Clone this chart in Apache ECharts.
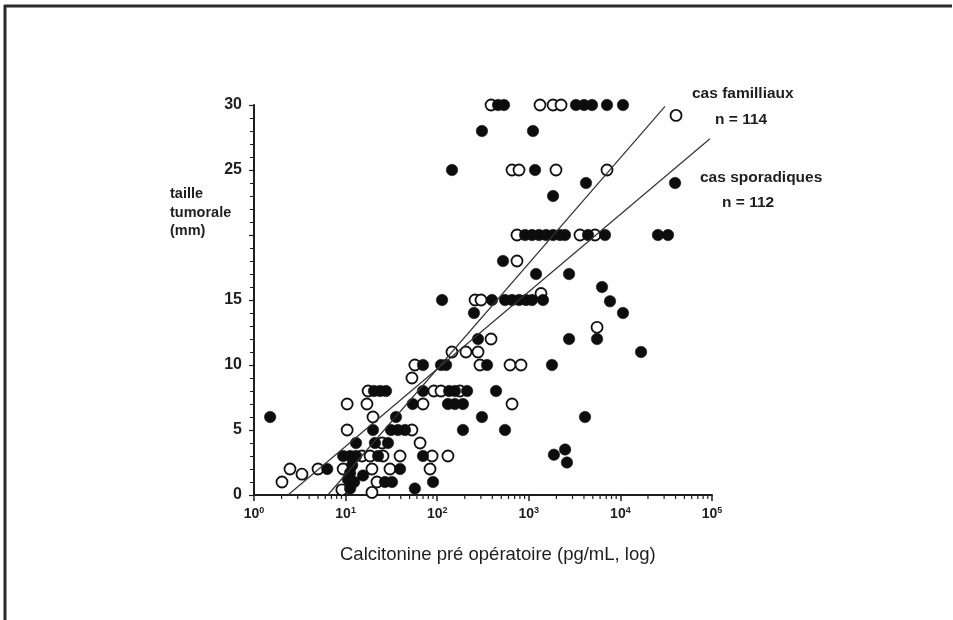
<!DOCTYPE html>
<html>
<head>
<meta charset="utf-8">
<script src="https://cdn.jsdelivr.net/npm/echarts@6/dist/echarts.min.js"></script>
<style>
  html, body { margin: 0; padding: 0; background: #fff; }
  #chart { width: 953px; height: 620px; }
</style>
</head>
<body>
<div id="chart"></div>
<script>
// calcitonine (pg/mL) vs taille tumorale (mm)
const openCases = [
  [387, 30], [1325, 30], [1840, 30], [2250, 30], [40500, 29.2],
  [656, 25], [782, 25], [1980, 25], [7140, 25],
  [743, 18], [743, 20], [3620, 20], [5280, 20],
  [259, 15], [301, 15], [1360, 15.5],
  [5560, 12.9], [387, 12],
  [145, 11], [206, 11], [279, 11],
  [57, 10], [293, 10], [624, 10], [822, 10],
  [53, 9],
  [17.6, 8], [92, 8], [110, 8], [177, 8],
  [10.4, 7], [17.1, 7], [70, 7], [656, 7],
  [19.9, 6],
  [10.4, 5], [53, 5],
  [25, 4], [65, 4],
  [15.1, 3], [18.5, 3], [25.6, 3], [39.3, 3], [88, 3], [131, 3],
  [2.47, 2], [3.34, 1.6], [5.0, 2], [9.4, 2], [19.4, 2], [30.5, 2], [83.5, 2],
  [2.02, 1], [22, 1],
  [9.1, 0.4], [19.4, 0.2]
];

const filledCases = [
  [461, 30], [536, 30], [3275, 30], [4010, 30], [4900, 30], [7140, 30], [10670, 30],
  [308, 28], [1111, 28],
  [145, 25], [1170, 25],
  [4210, 24], [39500, 24],
  [1840, 23],
  [910, 20], [1084, 20], [1292, 20], [1542, 20], [1840, 20], [2190, 20], [2485, 20],
  [4430, 20], [6790, 20], [25700, 20], [33100, 20],
  [523, 18],
  [1200, 17], [2750, 17],
  [6300, 16],
  [113, 15], [396, 15], [550, 15], [656, 15], [782, 15], [932, 15], [1084, 15], [1429, 15], [7700, 14.9],
  [252, 14], [10670, 14],
  [279, 12], [2750, 12], [5560, 12],
  [16800, 11],
  [70, 10], [110, 10], [125, 10], [350, 10], [1790, 10],
  [20.4, 8], [23.8, 8], [27.6, 8], [70, 8], [135, 8], [156, 8], [212, 8], [439, 8],
  [54, 7], [131, 7], [156, 7], [191, 7],
  [1.5, 6], [35.5, 6], [308, 6], [4110, 6],
  [19.9, 5], [31.3, 5], [37.3, 5], [44.5, 5], [191, 5], [550, 5],
  [13, 4], [20.9, 4], [29, 4],
  [9.4, 3], [11.2, 3], [13, 3], [22.6, 3], [70, 3], [1880, 3.1],
  [2490, 3.5], [2610, 2.5],
  [6.3, 2], [11.8, 2.3], [11.2, 1.7], [12.4, 1], [15.5, 1.5], [39.3, 2],
  [10.6, 1.2], [26.9, 1], [32.1, 1], [90, 1],
  [11.2, 0.5], [57, 0.5]
];

// droites de régression
const lineFamiliaux = [[6.4, 0], [30700, 29.9]];
const lineSporadiques = [[2.35, 0], [95000, 27.4]];

const xDecades = [1, 10, 100, 1000, 10000, 100000];
const yHiddenLabels = [20];

const minorTicks = [];
for (let i = 0; i < xDecades.length - 1; i++) {
  for (let k = 2; k <= 9; k++) minorTicks.push([k * xDecades[i], 0]);
}

const font = '"Liberation Sans", Arial, sans-serif';
const ink = '#1e1e1e';

const chart = echarts.init(document.getElementById('chart'));

chart.setOption({
  backgroundColor: '#fff',
  animation: false,
  grid: { left: 254, right: 241, top: 105, bottom: 125 },
  xAxis: {
    type: 'log',
    logBase: 10,
    min: 1,
    max: 100000,
    axisLine: { lineStyle: { color: ink, width: 2 } },
    axisTick: { length: 6, lineStyle: { color: ink, width: 1.5 } },
    splitLine: { show: false },
    axisLabel: {
      margin: 11,
      color: ink,
      fontFamily: font,
      fontWeight: 'bold',
      fontSize: 14,
      formatter: (v) => '10{s|' + Math.round(Math.log10(v)) + '}',
      rich: {
        s: { fontSize: 9, fontWeight: 'bold', fontFamily: font, color: ink, verticalAlign: 'top', padding: [0, 0, 7, 0] }
      }
    }
  },
  yAxis: {
    type: 'value',
    min: 0,
    max: 30,
    interval: 5,
    axisLine: { show: true, lineStyle: { color: ink, width: 2 } },
    axisTick: { show: true, length: 5, lineStyle: { color: ink, width: 1.2 } },
    minorTick: { show: true, splitNumber: 5, length: 4, lineStyle: { color: ink, width: 1 } },
    splitLine: { show: false },
    axisLabel: {
      margin: 12,
      color: ink,
      fontFamily: font,
      fontWeight: 'bold',
      fontSize: 16,
      formatter: (v) => (yHiddenLabels.includes(v) ? '' : String(v))
    }
  },
  series: [
    {
      name: 'ticks',
      type: 'custom',
      silent: true,
      clip: false,
      data: minorTicks,
      renderItem: (params, api) => {
        const p = api.coord([api.value(0), 0]);
        return {
          type: 'line',
          shape: { x1: p[0], y1: p[1] + 1, x2: p[0], y2: p[1] + 4 },
          style: { stroke: ink, lineWidth: 1.2 }
        };
      }
    },
    {
      name: 'cercles ouverts',
      type: 'scatter',
      data: openCases,
      symbol: 'circle',
      symbolSize: 11,
      itemStyle: { color: '#fff', borderColor: '#111', borderWidth: 1.8, opacity: 1 },
      z: 3
    },
    {
      name: 'cercles pleins',
      type: 'scatter',
      data: filledCases,
      symbol: 'circle',
      symbolSize: 11.5,
      itemStyle: { color: '#0d0d0d', borderColor: '#0d0d0d', borderWidth: 0.5, opacity: 1 },
      z: 4
    },
    {
      name: 'cas familliaux',
      type: 'line',
      data: lineFamiliaux,
      symbol: 'none',
      lineStyle: { color: '#333', width: 1.2 },
      z: 5
    },
    {
      name: 'cas sporadiques',
      type: 'line',
      data: lineSporadiques,
      symbol: 'none',
      lineStyle: { color: '#333', width: 1.2 },
      z: 5
    }
  ],
  graphic: [
    { type: 'line', shape: { x1: 4, y1: 6, x2: 952, y2: 6 }, style: { stroke: '#2a2a2a', lineWidth: 3 } },
    { type: 'line', shape: { x1: 5, y1: 5, x2: 5, y2: 620 }, style: { stroke: '#2a2a2a', lineWidth: 3 } },
    {
      type: 'text', x: 170, y: 185,
      style: { text: 'taille\ntumorale\n(mm)', font: 'bold 14.5px ' + font, fill: ink, lineHeight: 18.5, verticalAlign: 'top' }
    },
    { type: 'text', x: 692, y: 94, style: { text: 'cas familliaux', font: 'bold 15.5px ' + font, fill: ink, verticalAlign: 'middle' } },
    { type: 'text', x: 715, y: 120, style: { text: 'n = 114', font: 'bold 15.5px ' + font, fill: ink, verticalAlign: 'middle' } },
    { type: 'text', x: 700, y: 178, style: { text: 'cas sporadiques', font: 'bold 15.5px ' + font, fill: ink, verticalAlign: 'middle' } },
    { type: 'text', x: 722, y: 203, style: { text: 'n = 112', font: 'bold 15.5px ' + font, fill: ink, verticalAlign: 'middle' } },
    {
      type: 'text', x: 340, y: 555,
      style: { text: 'Calcitonine pré opératoire (pg/mL, log)', font: '18.5px ' + font, fill: ink, verticalAlign: 'middle' }
    }
  ]
});
</script>
</body>
</html>
